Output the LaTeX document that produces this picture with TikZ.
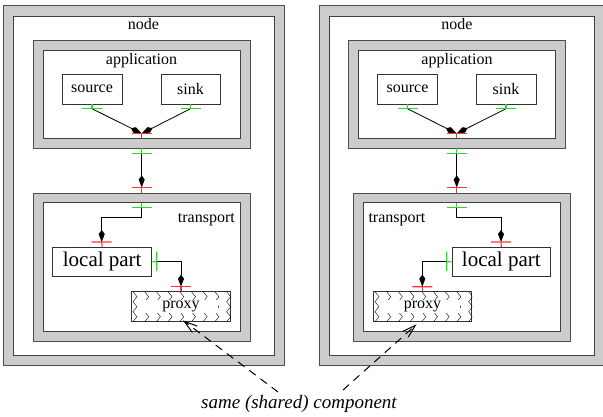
\documentclass[tikz,border=0pt]{standalone}
\usepackage{fontspec}
\setmainfont{Liberation Serif}
\newfontfamily\tms{Liberation Serif}
\usetikzlibrary{arrows.meta,calc}
\definecolor{bandgray}{HTML}{CCCCCC}
\definecolor{pgreen}{HTML}{22DD22}
\definecolor{pred}{HTML}{FF3333}
\tikzset{
  x=1pt, y=-1pt,
  band/.style={fill=bandgray, draw=black!70, line width=0.9pt},
  hole/.style={fill=white, draw=black!75, line width=0.9pt},
  compbox/.style={draw=black!80, fill=white, line width=0.8pt, inner sep=0pt, outer sep=0pt, font=\tms\fontsize{16}{19}\selectfont},
  bigbox/.style={compbox, font=\tms\fontsize{21}{24}\selectfont},
  lbl/.style={inner sep=0pt, font=\tms\fontsize{16}{19}\selectfont},
  gport/.style={draw=pgreen, line width=1.1pt},
  rport/.style={draw=pred, line width=1.1pt},
  conn/.style={draw=black, line width=0.8pt, -{Kite[length=12pt,width=6pt,inset=4pt]}},
  dashconn/.style={draw=black, line width=1pt, dash pattern=on 8pt off 6pt,
     -{Straight Barb[length=13pt,width=8pt,line width=1pt]}},
  zz/.style={draw=black, line width=0.4pt},
}
\begin{document}
\begin{tikzpicture}
\useasboundingbox (0,0) rectangle (603,416);
% ============ LEFT NODE ============
\draw[band] (3,5) rectangle (284,365);
\draw[hole] (13,16) rectangle (274,355);
\node[lbl, anchor=base] (nodeL) at (143.5,29) {node};
% application
\draw[band] (33,40) rectangle (250,148);
\draw[hole] (43,50) rectangle (240,138);
\node[lbl, anchor=base] (appL) at (141.5,64) {application};
\node[compbox, minimum width=60pt, minimum height=30pt] (srcL) at (92,89) {source};
\node[compbox, minimum width=59pt, minimum height=30pt] (sinkL) at (190.5,89) {sink};
\coordinate (srcLP) at (92,108.7);
\coordinate (sinkLP) at (190.5,108.7);
\coordinate (appLIn) at (141.7,133.5);
\coordinate (appLOut) at (141.7,153.3);
\coordinate (trLIn) at (141.7,187.5);
\draw[conn] (srcLP) -- (appLIn);
\draw[conn] (sinkLP) -- (appLIn);
\draw[conn] (appLOut) -- (trLIn);
\draw[gport] (srcL.south) -- (srcLP) (82,108.7) -- (102,108.7);
\draw[gport] (sinkL.south) -- (sinkLP) (180.5,108.7) -- (200.5,108.7);
\draw[rport] (131.7,133.5) -- (151.7,133.5) (appLIn) -- (141.7,138);
\draw[gport] (141.7,148) -- (appLOut) (131.7,153.3) -- (151.7,153.3);
\draw[rport] (131.7,187.5) -- (151.7,187.5) (trLIn) -- (141.7,193.3);
% transport
\draw[band] (33,193.3) rectangle (250,341);
\draw[hole] (43,202.7) rectangle (240,331);
\node[lbl, anchor=base east] (trLabL) at (235,222.3) {transport};
\coordinate (trLOut) at (141.7,207.3);
\node[bigbox, minimum width=99pt, minimum height=29.7pt] (lpL) at (102.2,261.85) {local part};
\coordinate (lpLIn) at (101.7,242);
\draw[conn] (trLOut) -- (141.7,217.3) -| (lpLIn);
\draw[gport] (141.7,202.7) -- (trLOut) (131.7,207.3) -- (151.7,207.3);
\draw[rport] (91.7,242) -- (111.7,242) (lpLIn) -- (lpL.north);
\coordinate (lpLOut) at (156.7,261.7);
% proxy
\node[draw=black!80, line width=0.8pt, minimum width=98.6pt, minimum height=29.3pt, inner sep=0pt] (pxL) at (181,306.35) {};
\begin{scope}
  \clip (pxL.south west) rectangle (pxL.north east);
  \foreach \k in {0,...,8} {
    \draw[zz] (133+11.7*\k,291.7) -- ++(4,5) -- ++(-4,5) -- ++(4,5) -- ++(-4,5) -- ++(4,5) -- ++(-4,5);
  }
\end{scope}
\node[lbl, fill=white, minimum width=74pt, minimum height=13pt] (pxLText) at (181,306.35) {proxy};
\coordinate (pxLIn) at (181,286.7);
\draw[conn] (lpLOut) -| (pxLIn);
\draw[gport] (lpL.east) -- (lpLOut) (156.7,251.7) -- (156.7,271);
\draw[rport] (171,286.7) -- (191,286.7) (pxLIn) -- (pxL.north);
% ============ RIGHT NODE ============
\draw[band] (319,5) rectangle (604,365);
\draw[hole] (329,16) rectangle (594,355);
\node[lbl, anchor=base] (nodeR) at (457,29) {node};
% application
\draw[band] (348.3,40) rectangle (565.7,148);
\draw[hole] (358.3,50) rectangle (555.7,138);
\node[lbl, anchor=base] (appR) at (457,64) {application};
\node[compbox, minimum width=59.6pt, minimum height=30pt] (srcR) at (407.5,89) {source};
\node[compbox, minimum width=60pt, minimum height=30pt] (sinkR) at (506,89) {sink};
\coordinate (srcRP) at (407.5,108.7);
\coordinate (sinkRP) at (506,108.7);
\coordinate (appRIn) at (456.7,133.5);
\coordinate (appROut) at (456.7,153.3);
\coordinate (trRIn) at (456.7,187.5);
\draw[conn] (srcRP) -- (appRIn);
\draw[conn] (sinkRP) -- (appRIn);
\draw[conn] (appROut) -- (trRIn);
\draw[gport] (srcR.south) -- (srcRP) (397.5,108.7) -- (417.5,108.7);
\draw[gport] (sinkR.south) -- (sinkRP) (496,108.7) -- (516,108.7);
\draw[rport] (446.7,133.5) -- (466.7,133.5) (appRIn) -- (456.7,138);
\draw[gport] (456.7,148) -- (appROut) (446.7,153.3) -- (466.7,153.3);
\draw[rport] (446.7,187.5) -- (466.7,187.5) (trRIn) -- (456.7,193.3);
% transport
\draw[band] (353.3,193.3) rectangle (570,341);
\draw[hole] (363.3,202.7) rectangle (560.3,331);
\node[lbl, anchor=base west] (trLabR) at (368.3,222.3) {transport};
\coordinate (trROut) at (456.7,207.3);
\node[bigbox, minimum width=98.7pt, minimum height=29.7pt] (lpR) at (501.35,261.85) {local part};
\coordinate (lpRIn) at (501,242);
\draw[conn] (trROut) -- (456.7,217.3) -| (lpRIn);
\draw[gport] (456.7,202.7) -- (trROut) (446.7,207.3) -- (466.7,207.3);
\draw[rport] (491,242) -- (511,242) (lpRIn) -- (lpR.north);
\coordinate (lpROut) at (446.7,261.7);
% proxy
\node[draw=black!80, line width=0.8pt, minimum width=98.4pt, minimum height=29.3pt, inner sep=0pt] (pxR) at (422.5,306.35) {};
\begin{scope}
  \clip (pxR.south west) rectangle (pxR.north east);
  \foreach \k in {0,...,8} {
    \draw[zz] (375+11.7*\k,291.7) -- ++(4,5) -- ++(-4,5) -- ++(4,5) -- ++(-4,5) -- ++(4,5) -- ++(-4,5);
  }
\end{scope}
\node[lbl, fill=white, minimum width=74pt, minimum height=13pt] (pxRText) at (422.5,306.35) {proxy};
\coordinate (pxRIn) at (422.3,286.7);
\draw[conn] (lpROut) -| (pxRIn);
\draw[gport] (lpR.west) -- (lpROut) (446.7,251.7) -- (446.7,271);
\draw[rport] (412.3,286.7) -- (432.3,286.7) (pxRIn) -- (pxR.north);
% ============ SHARED LABEL ============
\node[inner sep=0pt, anchor=base, font=\tms\fontsize{19}{22}\selectfont\itshape] (shared) at (299,408) {same (shared) component};
\coordinate (dL) at (278,392);
\coordinate (dR) at (343,390);
\draw[dashconn] (dL) -- ([xshift=2pt,yshift=1pt]pxL.south);
\draw[dashconn] (dR) -- ([xshift=-6pt,yshift=-3pt]pxR.south);
\end{tikzpicture}
\end{document}
